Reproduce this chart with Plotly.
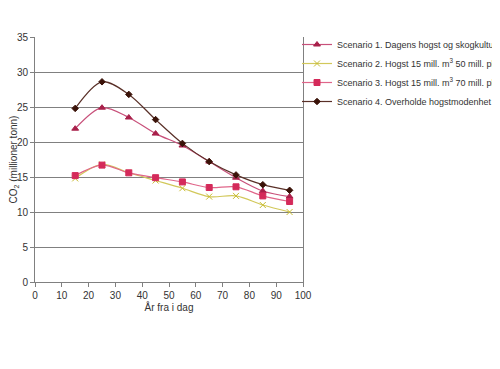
import plotly.graph_objects as go

years = [15, 25, 35, 45, 55, 65, 75, 85, 95]
s1 = [21.9, 24.9, 23.5, 21.2, 19.5, 17.2, 14.9, 13.0, 12.2]
s2 = [14.8, 16.8, 15.6, 14.5, 13.4, 12.2, 12.3, 11.0, 10.0]
s3 = [15.2, 16.7, 15.6, 14.9, 14.3, 13.5, 13.6, 12.3, 11.5]
s4 = [24.8, 28.6, 26.8, 23.2, 19.8, 17.2, 15.3, 13.9, 13.1]
names = [
    "Scenario 1. Dagens hogst og skogkultur",
    "Scenario 2. Hogst 15 mill. m<sup>3</sup> 50 mill. planter",
    "Scenario 3. Hogst 15 mill. m<sup>3</sup> 70 mill. planter",
    "Scenario 4. Overholde hogstmodenhet 40 år",
]
x_ticks = [0, 10, 20, 30, 40, 50, 60, 70, 80, 90, 100]
y_ticks = [0, 5, 10, 15, 20, 25, 30, 35]

styles = [
    dict(line="#c8507a", marker="#a8204a", symbol="triangle-up", size=6),
    dict(line="#d2c85a", marker="#c8bc30", symbol="x-thin", size=6),
    dict(line="#e0668a", marker="#d42a5a", symbol="square", size=6),
    dict(line="#5a3028", marker="#3a1208", symbol="diamond", size=5),
]

fig = go.Figure()
for i, (name, vals, st) in enumerate(zip(names, [s1, s2, s3, s4], styles)):
    fig.add_trace(go.Scatter(
        x=years, y=vals, name=name, mode="lines+markers", legendgroup=f"g{i}",
        line=dict(color=st["line"], width=1.2, shape="spline", smoothing=0.9),
        marker=dict(color=st["marker"], symbol=st["symbol"], size=st["size"],
                    line=dict(color=st["marker"], width=1)),
    ))

font = "Liberation Sans, Arial, sans-serif"
# body has an 8px margin: shift the layout so the plot lands where the reference has it
L, T, PW, PH = 27, 29, 268, 245
fig.update_layout(
    width=500, height=369,
    margin=dict(l=L, r=500 - L - PW, t=T, b=369 - T - PH, autoexpand=False),
    paper_bgcolor="white", plot_bgcolor="white",
    font=dict(family=font, size=10, color="#333333"),
    showlegend=True,
    legend=dict(x=1 - 6 / PW, xanchor="left", y=1 + 7 / PH, yanchor="top",
                font=dict(size=9, color="#333333"),
                bgcolor="rgba(0,0,0,0)", tracegroupgap=0, itemwidth=30),
    xaxis=dict(range=[0, 100], tickvals=x_ticks, showgrid=False, automargin=True,
               showline=True, linecolor="#808080", linewidth=1,
               ticks="outside", ticklen=4, tickcolor="#808080",
               title=dict(text="År fra i dag", font=dict(size=10), standoff=1),
               zeroline=False),
    yaxis=dict(range=[0, 35], tickvals=y_ticks, showgrid=True, automargin=True,
               gridcolor="#808080", gridwidth=1,
               showline=True, linecolor="#808080", linewidth=1, mirror=True,
               ticks="outside", ticklen=4, tickcolor="#808080",
               title=dict(text="CO<sub>2</sub> (millioner tonn)", font=dict(size=10), standoff=5),
               zeroline=False),
)

fig.write_html("out.html")
